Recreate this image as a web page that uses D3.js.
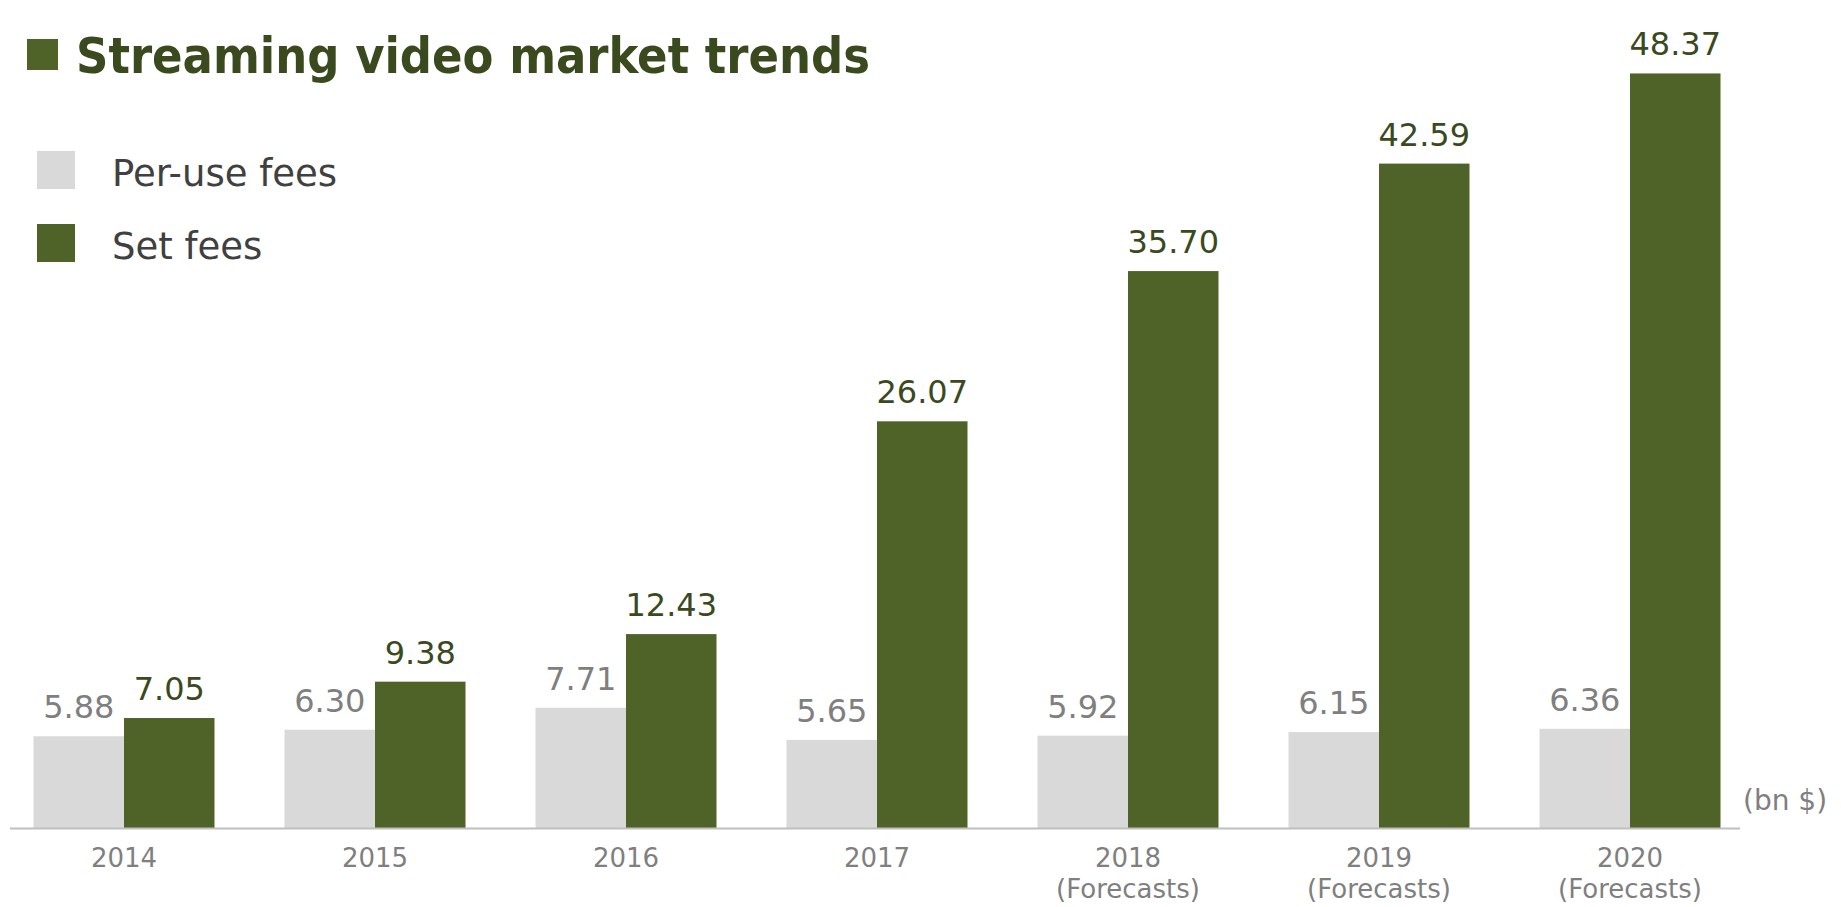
<!DOCTYPE html>
<html>
<head>
<meta charset="utf-8">
<script src="https://cdn.jsdelivr.net/npm/d3@7"></script>
<style>
  body { margin: 0; background: #fff; }
  svg { display: block; font-family: "DejaVu Sans", Verdana, sans-serif; }
</style>
</head>
<body>
<div id="chart"></div>
<script>
// streaming video market, bn $
var years = ["2014", "2015", "2016", "2017", "2018", "2019", "2020"];
var forecast = [false, false, false, false, true, true, true];
var perUse = [5.88, 6.30, 7.71, 5.65, 5.92, 6.15, 6.36];
var setFees = [7.05, 9.38, 12.43, 26.07, 35.70, 42.59, 48.37];
var seriesNames = ["Per-use fees", "Set fees"];
var seriesColors = ["#d9d9d9", "#4f6228"];
var labelColors = ["#7f7f7f", "#3b4a1e"];

var width = 1841, height = 907;
var baseY = 828;

var svg = d3.select("#chart").append("svg")
        .attr("width", width)
        .attr("height", height);

var rows = years.map(function(y, i) {
        return { year: y, forecast: forecast[i], values: [perUse[i], setFees[i]] };
});

var x = d3.scaleBand()
        .domain(years)
        .range([-1.5, 1755.5]);

var inner = d3.scaleBand()
        .domain([0, 1])
        .range([0, 181]);

// roughly 15.6 px per bn $
var y = d3.scaleLinear()
        .domain([0, 50])
        .range([baseY, baseY - 780]);

// title
svg.append("rect")
        .attr("x", 27).attr("y", 39)
        .attr("width", 31).attr("height", 31)
        .attr("fill", "#4f6228");

svg.append("text")
        .attr("x", 76).attr("y", 73)
        .attr("fill", "#3b4a1e")
        .style("font-family", "'DejaVu Sans Condensed', 'DejaVu Sans', sans-serif")
        .style("font-stretch", "condensed")
        .style("font-weight", "bold")
        .style("font-size", "50px")
        .text("Streaming video market trends");

// legend
var legend = svg.selectAll("g.legend")
        .data(seriesNames)
        .enter().append("g")
        .attr("class", "legend")
        .attr("transform", function(d, i) { return "translate(37," + (151 + i * 73) + ")"; });

legend.append("rect")
        .attr("width", 38).attr("height", 38)
        .attr("fill", function(d, i) { return seriesColors[i]; });

legend.append("text")
        .attr("x", 75).attr("y", 35)
        .attr("fill", "#404040")
        .style("font-size", "37px")
        .text(function(d) { return d; });

// bars
var groups = svg.selectAll("g.year")
        .data(rows)
        .enter().append("g")
        .attr("class", "year")
        .attr("transform", function(d) {
                return "translate(" + (x(d.year) + (x.bandwidth() - 181) / 2) + ",0)";
        });

groups.selectAll("rect")
        .data(function(d) { return d.values; })
        .enter().append("rect")
        .attr("x", function(d, i) { return inner(i); })
        .attr("width", inner.bandwidth())
        .attr("y", function(d) { return y(d); })
        .attr("height", function(d) { return baseY - y(d); })
        .attr("fill", function(d, i) { return seriesColors[i]; });

groups.selectAll("text.val")
        .data(function(d) { return d.values; })
        .enter().append("text")
        .attr("class", "val")
        .attr("x", function(d, i) { return inner(i) + inner.bandwidth() / 2; })
        .attr("y", function(d) { return y(d) - 18; })
        .attr("text-anchor", "middle")
        .attr("fill", function(d, i) { return labelColors[i]; })
        .style("font-size", "32px")
        .text(function(d) { return d.toFixed(2); });

// axis line
svg.append("line")
        .attr("x1", 10).attr("x2", 1740)
        .attr("y1", baseY + 0.5).attr("y2", baseY + 0.5)
        .attr("stroke", "#bfbfbf")
        .attr("stroke-width", 2);

var xLabels = svg.selectAll("text.year")
        .data(rows)
        .enter().append("text")
        .attr("class", "year")
        .attr("x", function(d) { return x(d.year) + x.bandwidth() / 2; })
        .attr("y", 867)
        .attr("text-anchor", "middle")
        .attr("fill", "#7f7f7f")
        .style("font-size", "26px");

xLabels.append("tspan")
        .text(function(d) { return d.year; });

xLabels.filter(function(d) { return d.forecast; })
        .append("tspan")
        .attr("x", function(d) { return x(d.year) + x.bandwidth() / 2; })
        .attr("dy", 31)
        .text("(Forecasts)");

// unit
svg.append("text")
        .attr("x", 1743).attr("y", 810)
        .attr("fill", "#7f7f7f")
        .style("font-size", "28px")
        .text("(bn $)");
</script>
</body>
</html>
